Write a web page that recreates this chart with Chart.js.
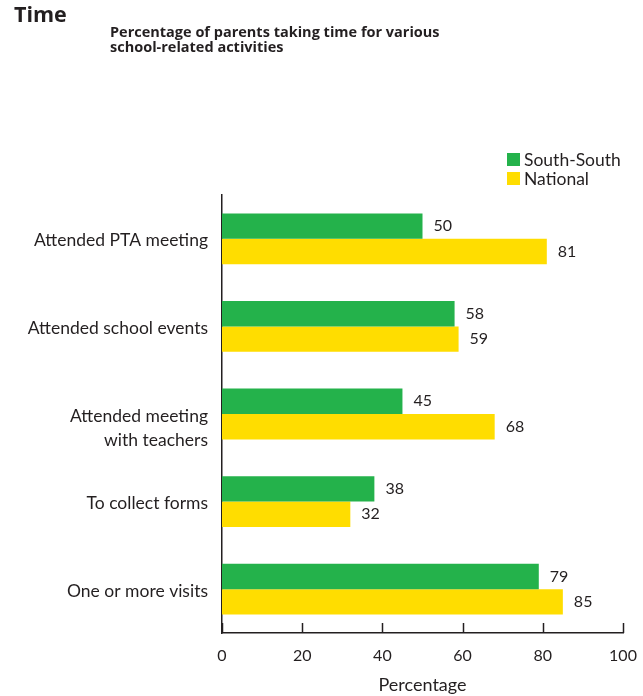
<!DOCTYPE html>
<html>
<head>
<meta charset="utf-8">
<script src="https://cdn.jsdelivr.net/npm/chart.js@4/dist/chart.umd.min.js"></script>
<style>
  body { margin: 0; background: #fff; }
  #wrap { position: relative; width: 643px; height: 696px; }
  canvas { position: absolute; left: 0; top: 0; }
</style>
</head>
<body>
<div id="wrap">
  <canvas id="graf" width="643" height="696"></canvas>
</div>
<script>
// kategorier och värden (tom första rad så att texten hamnar under mitten)
const categories = [
  "Attended PTA meeting",
  "Attended school events",
  ["", "Attended meeting", "with teachers"],
  "To collect forms",
  "One or more visits"
];
const southSouth = [50, 58, 45, 38, 79];
const national = [81, 59, 68, 32, 85];
const xTicks = [0, 20, 40, 60, 80, 100];

const textColor = "#231f20";
const font = "Lato, 'Open Sans', sans-serif";
const headFont = "'Open Sans', Lato, sans-serif";

// rubrik, underrubrik och förklaring ritas direkt på canvasen
const headerPlugin = {
  id: "header",
  afterDraw(chart) {
    const ctx = chart.ctx;
    ctx.save();
    ctx.fillStyle = textColor;
    ctx.textAlign = "left";
    ctx.textBaseline = "middle";
    ctx.font = "bold 21.5px " + headFont;
    ctx.fillText("Time", 14, 16);
    ctx.font = "bold 14.5px " + headFont;
    ctx.fillText("Percentage of parents taking time for various", 110, 33);
    ctx.fillText("school-related activities", 110, 48);

    // förklaring
    const items = [
      { label: "South-South", color: "#24b24b", y: 160 },
      { label: "National", color: "#ffdd00", y: 179 }
    ];
    ctx.font = "17.5px " + font;
    items.forEach(it => {
      ctx.fillStyle = it.color;
      ctx.fillRect(507, it.y - 7, 13, 13);
      ctx.fillStyle = textColor;
      ctx.fillText(it.label, 524, it.y);
    });
    ctx.restore();
  }
};

// siffror efter varje stapel
const valuePlugin = {
  id: "values",
  afterDatasetsDraw(chart) {
    const ctx = chart.ctx;
    ctx.save();
    ctx.fillStyle = textColor;
    ctx.font = "16px " + font;
    ctx.textAlign = "left";
    ctx.textBaseline = "middle";
    chart.data.datasets.forEach((ds, i) => {
      chart.getDatasetMeta(i).data.forEach((bar, j) => {
        ctx.fillText(ds.data[j], bar.x + 11, bar.y);
      });
    });
    ctx.restore();
  }
};

// korta tickstreck som pekar in i diagrammet
const tickPlugin = {
  id: "inTicks",
  afterDraw(chart) {
    const x = chart.scales.x;
    const ctx = chart.ctx;
    ctx.save();
    ctx.strokeStyle = textColor;
    ctx.lineWidth = 1.5;
    x.ticks.forEach(t => {
      const px = Math.round(x.getPixelForValue(t.value)) + 0.5;
      ctx.beginPath();
      ctx.moveTo(px, x.top);
      ctx.lineTo(px, x.top - 10);
      ctx.stroke();
    });
    ctx.restore();
  }
};

const ctx = document.getElementById("graf").getContext("2d");

new Chart(ctx, {
  type: "bar",
  data: {
    labels: categories,
    datasets: [
      {
        label: "South-South",
        data: southSouth,
        backgroundColor: "#24b24b",
        categoryPercentage: 0.58,
        barPercentage: 1
      },
      {
        label: "National",
        data: national,
        backgroundColor: "#ffdd00",
        categoryPercentage: 0.58,
        barPercentage: 1
      }
    ]
  },
  options: {
    indexAxis: "y",
    responsive: false,
    animation: false,
    layout: { padding: { top: 195, left: 0, right: 20, bottom: 0 } },
    plugins: {
      legend: { display: false },
      tooltip: { enabled: false }
    },
    scales: {
      x: {
        min: 0,
        max: 100,
        afterBuildTicks(scale) {
          scale.ticks = xTicks.map(v => ({ value: v }));
        },
        afterFit(scale) {
          scale.height = 696 - 633;
        },
        grid: { display: false },
        border: { display: true, color: textColor, width: 1.5 },
        ticks: { color: textColor, font: { family: font, size: 16 }, padding: 5 },
        title: {
          display: true,
          text: "Percentage",
          color: textColor,
          font: { family: font, size: 18 },
          padding: { top: 10, bottom: 0 }
        }
      },
      y: {
        afterFit(scale) {
          scale.width = 222;
        },
        grid: { display: false, drawTicks: false },
        border: { display: true, color: textColor, width: 1.5 },
        ticks: {
          color: textColor,
          font: { family: font, size: 17.5, lineHeight: 1.37 },
          padding: 14,
          labelOffset: 2
        }
      }
    }
  },
  plugins: [headerPlugin, valuePlugin, tickPlugin]
});
</script>
</body>
</html>
